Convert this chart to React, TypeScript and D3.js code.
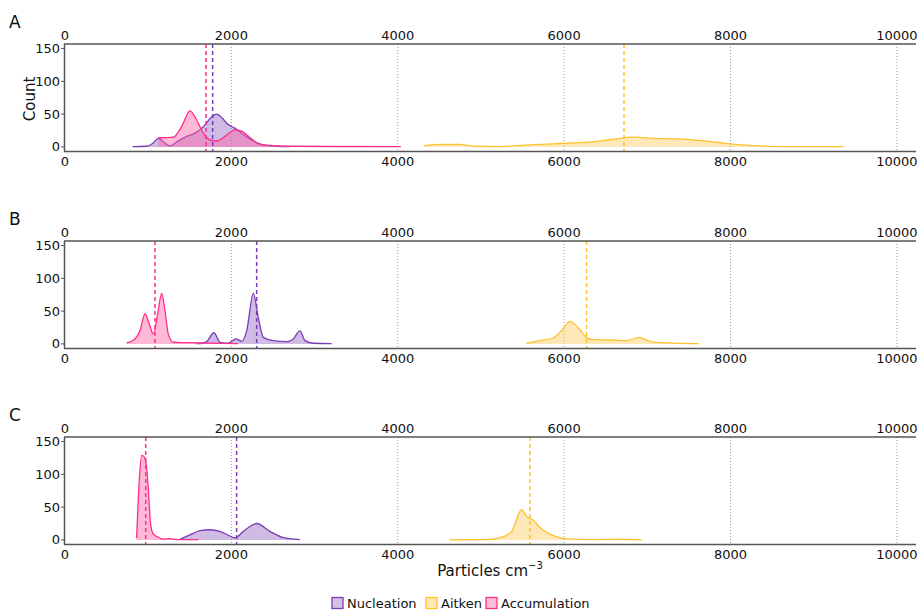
import React from "react";
import * as d3 from "d3";

const panelLabels = ["A", "B", "C"];
const seriesNames = ["Nucleation", "Aitken", "Accumulation"];
const xTicks = [0, 2000, 4000, 6000, 8000, 10000];
const gridTicks = [2000, 4000, 6000, 8000, 10000];
const yTicks = [0, 50, 100, 150];

// Panel A
const nucleationA: [number, number][] = [
  [813, 0.5], [982, 1], [1060, 6], [1122, 13], [1190, 7], [1262, 1.5], [1360, 9], [1463, 16], [1563, 21],
  [1663, 31], [1750, 44], [1823, 50], [1890, 44], [1943, 36], [2043, 28.6], [2144, 19], [2264, 9],
  [2384, 3], [2544, 1], [2704, 0.4],
];
const aitkenA: [number, number][] = [
  [4318, 2], [4525, 4], [4731, 4], [4938, 1], [5227, 0.5], [5640, 3.5], [6012, 5.6], [6343, 7.6],
  [6591, 11.7], [6839, 14.8], [7087, 13], [7417, 12], [7707, 8.7], [7996, 4.6], [8326, 1.5],
  [8740, 0.5], [9360, 0.3],
];
const accumulationA: [number, number][] = [
  [1122, 14], [1302, 15], [1402, 31], [1503, 55], [1583, 41], [1663, 21], [1743, 10.7], [1823, 9],
  [1923, 16], [2043, 26], [2124, 24], [2224, 14], [2344, 4], [2500, 2], [2740, 1], [3200, 0.6],
  [4037, 0.5],
];
const meanA = [1775, 6720, 1695];

// Panel B
const nucleationB: [number, number][] = [
  [1583, 0.5], [1650, 1], [1703, 3.5], [1791, 17], [1863, 2.5], [1963, 1], [2055, 7.6], [2124, 4],
  [2184, 20], [2264, 77], [2324, 40], [2384, 10], [2504, 5], [2664, 3.5], [2744, 7.6], [2824, 20],
  [2885, 5], [2985, 1], [3205, 0.4],
];
const aitkenB: [number, number][] = [
  [5548, 1], [5708, 5], [5868, 9], [5968, 20], [6068, 34.5], [6168, 25], [6268, 10], [6348, 6.6],
  [6588, 6], [6748, 5], [6908, 10], [7028, 4], [7228, 1.5], [7620, 0.3],
];
const accumulationB: [number, number][] = [
  [741, 1.5], [841, 7.6], [901, 20], [962, 46], [1014, 30], [1062, 15], [1114, 46], [1162, 77],
  [1202, 51], [1242, 15], [1302, 2.5], [1463, 2], [1663, 1.5], [1863, 0.8], [2080, 0.5],
];
const meanB = [2304, 6270, 1082];

// Panel C
const nucleationC: [number, number][] = [
  [1382, 1], [1503, 7.7], [1623, 14], [1743, 15.5], [1863, 13], [1983, 6], [2043, 3], [2144, 13],
  [2304, 25], [2464, 13], [2624, 3.5], [2824, 0.5],
];
const aitkenC: [number, number][] = [
  [4620, 0.2], [5069, 0.3], [5269, 5], [5369, 12.8], [5489, 46], [5549, 36], [5629, 30], [5709, 19],
  [5810, 10], [5910, 5], [6030, 1.5], [6350, 0.5], [6671, 1], [6931, 0.2],
];
const accumulationC: [number, number][] = [
  [861, 2.5], [894, 93], [922, 129], [950, 127], [974, 118], [1002, 77], [1030, 23], [1062, 9],
  [1122, 4], [1182, 1], [1262, 2], [1342, 0.5], [1603, 0.3],
];
const meanC = [2063, 5589, 970];

const panelData = [
  [nucleationA, aitkenA, accumulationA],
  [nucleationB, aitkenB, accumulationB],
  [nucleationC, aitkenC, accumulationC],
];
const panelMeans = [meanA, meanB, meanC];

const strokeColors = ["#7A3DB8", "#FFC22E", "#FF2E86"];
const fillColors = ["rgba(150,105,195,0.45)", "rgba(255,205,95,0.45)", "rgba(255,100,165,0.45)"];
const legendFill = ["#D3C1E6", "#FFE9B8", "#FFBDD7"];
const legendX = [332, 426, 486];

const W = 919;
const H = 611;
const panelTops = [44, 241, 437];
const panelH = 107.5;
const font = "DejaVu Sans, sans-serif";

export default function App() {
  const x = d3.scaleLinear().domain([0, 10230]).range([65, 916]);
  return (
    <div style={{ position: "absolute", left: 0, top: 0 }}>
      <svg width={W} height={H} style={{ display: "block", background: "#fff" }} fontFamily={font}>
        {panelLabels.map((lab, pi) => {
          const top = panelTops[pi];
          const y = d3.scaleLinear().domain([-7, 157]).range([top + panelH, top]);
          const area = d3
            .area<[number, number]>()
            .x((d) => x(d[0]))
            .y0(y(0))
            .y1((d) => y(d[1]))
            .curve(d3.curveMonotoneX);
          const line = d3
            .line<[number, number]>()
            .x((d) => x(d[0]))
            .y((d) => y(d[1]))
            .curve(d3.curveMonotoneX);
          const order = [1, 0, 2];
          return (
            <g key={lab}>
              <text x={9} y={top - 16} fontSize={17} fill="#111">{lab}</text>
              {gridTicks.map((t) => (
                <line key={t} x1={x(t)} x2={x(t)} y1={top} y2={top + panelH}
                  stroke="#999" strokeWidth={1} strokeDasharray="1,2" />
              ))}
              {order.map((si) => (
                <g key={si}>
                  <path d={area(panelData[pi][si]) || ""} fill={fillColors[si]} stroke="none" />
                  <path d={line(panelData[pi][si]) || ""} fill="none" stroke={strokeColors[si]} strokeWidth={1.3} />
                </g>
              ))}
              {order.map((si) => (
                <line key={"m" + si} x1={x(panelMeans[pi][si])} x2={x(panelMeans[pi][si])} y1={top} y2={top + panelH}
                  stroke={strokeColors[si]} strokeWidth={1.5} strokeDasharray="4,3" />
              ))}
              <line x1={x(0) - 1} x2={916} y1={top} y2={top} stroke="#555" strokeWidth={1.5} />
              <line x1={x(0) - 1} x2={916} y1={top + panelH} y2={top + panelH} stroke="#555" strokeWidth={1.5} />
              <line x1={x(0) - 0.5} x2={x(0) - 0.5} y1={top} y2={top + panelH} stroke="#555" strokeWidth={1.5} />
              {xTicks.map((t) => (
                <g key={"xt" + t}>
                  <text x={x(t)} y={top - 4} textAnchor="middle" fontSize={13} fill="#111">{t}</text>
                  <text x={x(t)} y={top + panelH + 14} textAnchor="middle" fontSize={13} fill="#111">{t}</text>
                </g>
              ))}
              {yTicks.map((t) => (
                <g key={"yt" + t}>
                  <line x1={x(0) - 4} x2={x(0) - 1} y1={y(t)} y2={y(t)} stroke="#555" strokeWidth={1} />
                  <text x={x(0) - 5} y={y(t)} dy="0.35em" textAnchor="end" fontSize={13} fill="#111">{t}</text>
                </g>
              ))}
            </g>
          );
        })}
        <text transform="translate(35,99) rotate(-90)" textAnchor="middle" fontSize={15} fill="#111">Count</text>
        <text x={490} y={576} textAnchor="middle" fontSize={15} fill="#111">
          Particles cm<tspan dy={-7} fontSize={10}>−3</tspan>
        </text>
        {seriesNames.map((name, i) => {
          const bx = legendX[i];
          return (
            <g key={name}>
              <rect x={bx} y={597.5} width={11} height={11} fill={legendFill[i]} stroke={strokeColors[i]} strokeWidth={1.3} />
              <text x={bx + 15} y={607.5} fontSize={13} fill="#111">{name}</text>
            </g>
          );
        })}
      </svg>
    </div>
  );
}
